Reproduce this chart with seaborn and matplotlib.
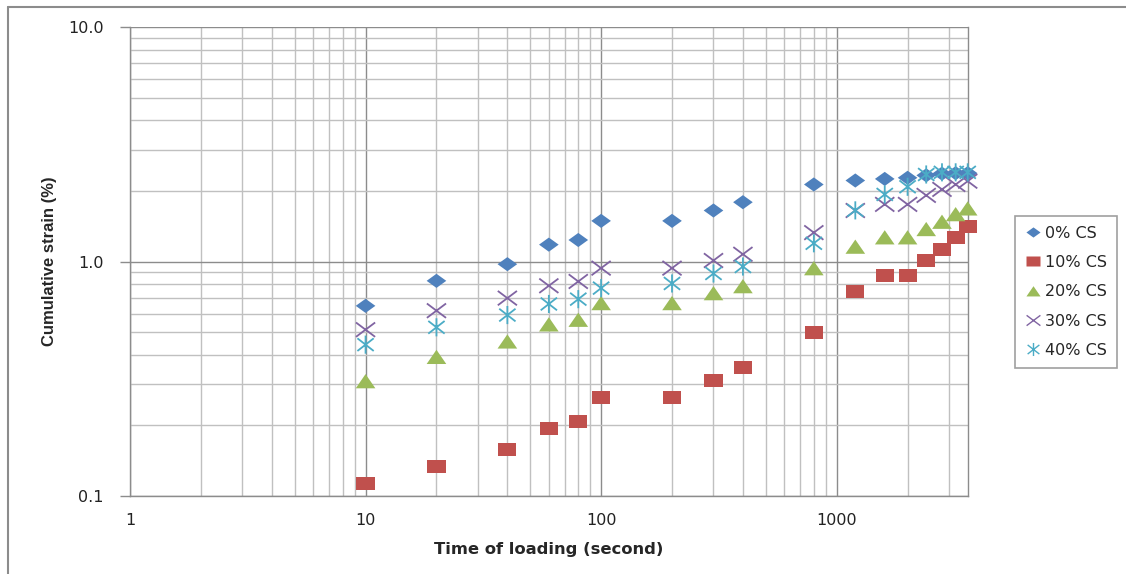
import numpy as np
import pandas as pd
import matplotlib
matplotlib.use("Agg")
import matplotlib.pyplot as plt
import seaborn as sns
from matplotlib.path import Path
from matplotlib.lines import Line2D
from matplotlib.ticker import FixedLocator, FixedFormatter, NullFormatter

# ---- data ----
time_s = [10, 20, 40, 60, 80, 100, 200, 300, 400, 800, 1200, 1600, 2000, 2400, 2800, 3200, 3600]
cs0 = [0.647, 0.827, 0.974, 1.18, 1.235, 1.49, 1.49, 1.65, 1.79, 2.13, 2.215, 2.25, 2.275, 2.33, 2.37, 2.38, 2.38]
cs10 = [0.113, 0.134, 0.158, 0.194, 0.208, 0.264, 0.264, 0.311, 0.353, 0.496, 0.743, 0.869, 0.869, 1.006, 1.128, 1.265, 1.408]
cs20 = [0.308, 0.391, 0.455, 0.538, 0.563, 0.663, 0.663, 0.731, 0.783, 0.934, 1.154, 1.265, 1.265, 1.372, 1.474, 1.588, 1.68]
cs30 = [0.512, 0.617, 0.698, 0.788, 0.822, 0.937, 0.937, 1.01, 1.074, 1.328, 1.65, 1.752, 1.752, 1.914, 2.03, 2.13, 2.20]
cs40 = [0.442, 0.524, 0.591, 0.659, 0.691, 0.770, 0.806, 0.889, 0.952, 1.196, 1.652, 1.932, 2.083, 2.35, 2.40, 2.40, 2.40]
series_labels = ["0% CS", "10% CS", "20% CS", "30% CS", "40% CS"]
y_ticks = [0.1, 1.0, 10.0]
y_tick_labels = ["0.1", "1.0", "10.0"]
x_ticks = [1, 10, 100, 1000]
x_tick_labels = ["1", "10", "100", "1000"]

series_values = [cs0, cs10, cs20, cs30, cs40]
df = pd.concat([pd.DataFrame({"t": time_s, "strain": v, "series": lab})
                for v, lab in zip(series_values, series_labels)], ignore_index=True)

# ---- markers (Excel-like, slightly wide) ----
diamond = Path([(-1, 0), (0, 0.72), (1, 0), (0, -0.72), (-1, 0)],
               [Path.MOVETO, Path.LINETO, Path.LINETO, Path.LINETO, Path.CLOSEPOLY])
square = Path([(-1, -0.72), (1, -0.72), (1, 0.72), (-1, 0.72), (-1, -0.72)],
              [Path.MOVETO, Path.LINETO, Path.LINETO, Path.LINETO, Path.CLOSEPOLY])
triangle = Path([(-1, -0.7), (1, -0.7), (0, 0.75), (-1, -0.7)],
                [Path.MOVETO, Path.LINETO, Path.LINETO, Path.CLOSEPOLY])
xmark = Path([(-1, -0.75), (1, 0.75), (-1, 0.75), (1, -0.75)],
             [Path.MOVETO, Path.LINETO, Path.MOVETO, Path.LINETO])
astmark = Path([(-0.9, -0.7), (0.9, 0.7), (-0.9, 0.7), (0.9, -0.7), (0, -1), (0, 1)],
               [Path.MOVETO, Path.LINETO, Path.MOVETO, Path.LINETO, Path.MOVETO, Path.LINETO])

styles = {
    "0% CS": dict(marker=diamond, color="#4F81BD", s=200, filled=True),
    "10% CS": dict(marker=square, color="#C0504D", s=170, filled=True),
    "20% CS": dict(marker=triangle, color="#9BBB59", s=200, filled=True),
    "30% CS": dict(marker=xmark, color="#8064A2", s=190, filled=False),
    "40% CS": dict(marker=astmark, color="#4BACC6", s=170, filled=False),
}

sns.set_theme(style="white")
plt.rcParams["font.family"] = ["DejaVu Sans"]

fig = plt.figure(figsize=(11.26, 5.74), dpi=100)
ax = fig.add_axes([130 / 1126, 1 - 496 / 574, (967.7 - 130) / 1126, (496 - 27) / 574])
ax.set_xscale("log")
ax.set_yscale("log")

handles = []
for lab in series_labels:
    st = styles[lab]
    sub = df[df["series"] == lab]
    if st["filled"]:
        sns.scatterplot(data=sub, x="t", y="strain", ax=ax, marker=st["marker"], s=st["s"],
                        color=st["color"], edgecolor="none", linewidth=0, zorder=3,
                        legend=False, clip_on=False)
        h = Line2D([], [], linestyle="none", marker=st["marker"], markersize=np.sqrt(st["s"]) * 0.72,
                   markerfacecolor=st["color"], markeredgecolor="none")
    else:
        sns.scatterplot(data=sub, x="t", y="strain", ax=ax, marker=st["marker"], s=st["s"],
                        facecolors="none", edgecolors=st["color"], linewidth=1.3, zorder=3,
                        legend=False, clip_on=False)
        h = Line2D([], [], linestyle="none", marker=st["marker"], markersize=np.sqrt(st["s"]) * 0.72,
                   markerfacecolor="none", markeredgecolor=st["color"], markeredgewidth=1.0)
    handles.append(h)

ax.set_xlim(1, 3600)
ax.set_ylim(0.1, 10)

# grids
ax.xaxis.set_major_locator(FixedLocator(x_ticks))
ax.xaxis.set_major_formatter(FixedFormatter(x_tick_labels))
ax.yaxis.set_major_locator(FixedLocator(y_ticks))
ax.yaxis.set_major_formatter(FixedFormatter(y_tick_labels))
xminor = [m * 10 ** d for d in range(0, 4) for m in range(2, 10) if m * 10 ** d < 3600]
yminor = [m * 10 ** d for d in (-1, 0) for m in range(2, 10)]
ax.xaxis.set_minor_locator(FixedLocator(xminor))
ax.yaxis.set_minor_locator(FixedLocator(yminor))
ax.xaxis.set_minor_formatter(NullFormatter())
ax.yaxis.set_minor_formatter(NullFormatter())
ax.grid(which="major", color="#8c8c8c", linewidth=1.0)
ax.grid(which="minor", color="#c0c0c0", linewidth=1.0)
ax.set_axisbelow(True)

for side in ["left", "bottom", "right", "top"]:
    ax.spines[side].set_visible(True)
    ax.spines[side].set_color("#8c8c8c")
    ax.spines[side].set_linewidth(1.0)
ax.spines["top"].set_visible(False)

ax.tick_params(axis="y", which="major", length=7, width=1, color="#8c8c8c", direction="out",
               left=True, pad=12, labelsize=11.5, labelcolor="#222222")
ax.tick_params(axis="y", which="minor", length=0)
ax.tick_params(axis="x", which="both", length=0, pad=12, labelsize=11.5, labelcolor="#222222")

ax.set_xlabel("Time of loading (second)", fontsize=11.8, fontweight="bold", labelpad=10)
ax.set_ylabel("Cumulative strain (%)", fontsize=12, fontweight="bold",
              family=["Liberation Sans Narrow", "Liberation Sans", "DejaVu Sans"], labelpad=8)

leg = fig.legend(handles, series_labels, loc="upper left",
                 bbox_to_anchor=(1015 / 1126, 1 - 216 / 574), bbox_transform=fig.transFigure,
                 borderaxespad=0, fancybox=False, edgecolor="#a0a0a0", framealpha=1,
                 fontsize=11.5, labelspacing=0.9, handlelength=1.0, handletextpad=0.3,
                 borderpad=0.6)
leg.get_frame().set_linewidth(1.2)

# outer chart frame (top and left visible)
fig.add_artist(Line2D([8 / 1126, 1.0], [1 - 7 / 574, 1 - 7 / 574], transform=fig.transFigure,
                      color="#8c8c8c", linewidth=1.5))
fig.add_artist(Line2D([8 / 1126, 8 / 1126], [0.0, 1 - 7 / 574], transform=fig.transFigure,
                      color="#8c8c8c", linewidth=1.5))

fig.savefig("out.png", dpi=100, facecolor="white")
